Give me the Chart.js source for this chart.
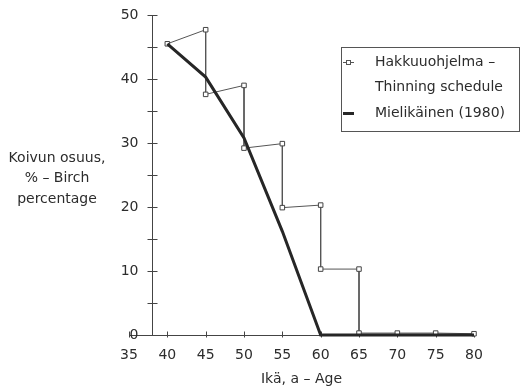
<!DOCTYPE html>
<html>
<head>
<meta charset="utf-8">
<script src="https://cdn.jsdelivr.net/npm/chart.js@4.4.1/dist/chart.umd.min.js"></script>
<style>
  html, body { margin: 0; padding: 0; background: #fff; }
  #wrap { width: 521px; height: 388px; }
</style>
</head>
<body>
<div id="wrap"><canvas id="chart" width="521" height="388"></canvas></div>
<script>
// thinning schedule: birch share steps down at every thinning
const thinAge = [40, 45, 45, 50, 50, 55, 55, 60, 60, 65, 65, 70, 75, 80];
const thinPct = [45.5, 47.7, 37.6, 39.0, 29.2, 29.9, 19.9, 20.3, 10.3, 10.3, 0.3, 0.3, 0.3, 0.2];

// Mielikäinen (1980) curve
const mieliAge = [40, 45, 50, 55, 60, 65, 70, 75, 80];
const mieliPct = [45.5, 40.3, 30.8, 16.2, 0, 0, 0, 0, 0];

const seriesNames = ["Hakkuuohjelma –\nThinning schedule", "Mielikäinen (1980)"];
const xTicks = [35, 40, 45, 50, 55, 60, 65, 70, 75, 80];
const yTicks = [0, 10, 20, 30, 40, 50];
const xTitle = "Ikä, a – Age";
const yTitle = ["Koivun osuus,", "% – Birch", "percentage"];

const INK = "#2c2c2c";
const FONT = { family: "DejaVu Sans", size: 14 };
const yAxisAt = 38; // vertical axis crosses the age scale here

function pairs(xs, ys) {
  return xs.map((x, i) => ({ x: x, y: ys[i] }));
}

// axis lines with cross ticks, drawn under the data
const axesPlugin = {
  id: "axes",
  beforeDatasetsDraw(chart) {
    const ctx = chart.ctx;
    const xs = chart.scales.x, ys = chart.scales.y;
    const ax = Math.round(xs.getPixelForValue(yAxisAt)) + 0.5;
    const ay = Math.round(ys.getPixelForValue(0)) + 0.5;
    ctx.save();
    ctx.strokeStyle = "#444";
    ctx.lineWidth = 1;
    ctx.beginPath();
    ctx.moveTo(ax, ys.getPixelForValue(50));
    ctx.lineTo(ax, ay);
    ctx.moveTo(xs.getPixelForValue(35), ay);
    ctx.lineTo(xs.getPixelForValue(80), ay);
    ys.ticks.forEach(t => {
      const py = Math.round(ys.getPixelForValue(t.value)) + 0.5;
      ctx.moveTo(ax - 5, py);
      ctx.lineTo(ax + 5, py);
    });
    xs.ticks.forEach(t => {
      const px = Math.round(xs.getPixelForValue(t.value)) + 0.5;
      ctx.moveTo(px, ay - 4);
      ctx.lineTo(px, ay + 2);
    });
    ctx.stroke();

    // y tick labels sit left of the axis line
    ctx.font = FONT.size + "px " + FONT.family;
    ctx.fillStyle = INK;
    ctx.textAlign = "right";
    ctx.textBaseline = "middle";
    yTicks.forEach(v => ctx.fillText(String(v), ax - 14, ys.getPixelForValue(v)));
    ctx.restore();
  },
  afterDraw(chart) {
    // horizontal y title, three lines
    const ctx = chart.ctx;
    ctx.save();
    ctx.font = FONT.size + "px " + FONT.family;
    ctx.fillStyle = INK;
    ctx.textAlign = "center";
    ctx.textBaseline = "middle";
    yTitle.forEach((s, i) => ctx.fillText(s, 57, 158 + i * 20.5));
    ctx.restore();
  }
};

// boxed legend inside the plot
const boxLegend = {
  id: "boxLegend",
  afterDraw(chart) {
    const ctx = chart.ctx;
    const sets = chart.data.datasets;
    ctx.save();
    ctx.strokeStyle = "#555";
    ctx.lineWidth = 1;
    ctx.strokeRect(341.5, 47.5, 178, 84);
    ctx.font = FONT.size + "px " + FONT.family;
    ctx.fillStyle = INK;
    ctx.textBaseline = "middle";
    ctx.textAlign = "left";
    let y = 62;
    sets.forEach(ds => {
      ctx.beginPath();
      ctx.strokeStyle = ds.borderColor;
      ctx.lineWidth = ds.borderWidth;
      ctx.moveTo(343, Math.round(y) + 0.5);
      ctx.lineTo(354, Math.round(y) + 0.5);
      ctx.stroke();
      if (ds.pointRadius > 0) {
        ctx.fillStyle = "#fff";
        ctx.lineWidth = 1;
        ctx.fillRect(346, Math.round(y) - 2, 4, 4);
        ctx.strokeRect(346.5, Math.round(y) - 1.5, 4, 4);
      }
      ctx.fillStyle = INK;
      ds.label.split("\n").forEach(line => {
        ctx.fillText(line, 375, y);
        y += 25.5;
      });
    });
    ctx.restore();
  }
};

new Chart(document.getElementById("chart"), {
  type: "line",
  data: {
    datasets: [
      {
        label: seriesNames[0],
        data: pairs(thinAge, thinPct),
        borderColor: "#555",
        borderWidth: 1,
        pointStyle: "rect",
        pointRadius: 3.2,
        pointBackgroundColor: "#fff",
        pointBorderColor: "#444",
        pointBorderWidth: 1,
        tension: 0,
        clip: false,
        order: 1
      },
      {
        label: seriesNames[1],
        data: pairs(mieliAge, mieliPct),
        borderColor: "#262626",
        borderWidth: 3,
        pointRadius: 0,
        tension: 0,
        clip: false,
        order: 0
      }
    ]
  },
  options: {
    responsive: false,
    animation: false,
    events: [],
    layout: { padding: { left: 0, right: 47, top: 15, bottom: 0 } },
    plugins: {
      legend: { display: false },
      tooltip: { enabled: false }
    },
    scales: {
      x: {
        type: "linear",
        min: 35,
        max: 80,
        afterFit: s => { s.height = 53; },
        afterBuildTicks: s => { s.ticks = xTicks.map(v => ({ value: v })); },
        grid: { display: false, drawTicks: false },
        border: { display: false },
        ticks: { font: FONT, color: INK, padding: 12, maxRotation: 0, autoSkip: false },
        title: { display: true, text: xTitle, font: FONT, color: INK, padding: { top: 0, bottom: 0 } }
      },
      y: {
        min: 0,
        max: 50,
        afterFit: s => { s.width = 129; },
        grid: { display: false, drawTicks: false },
        border: { display: false },
        ticks: { stepSize: 5, display: false }
      }
    }
  },
  plugins: [axesPlugin, boxLegend]
});
</script>
</body>
</html>
